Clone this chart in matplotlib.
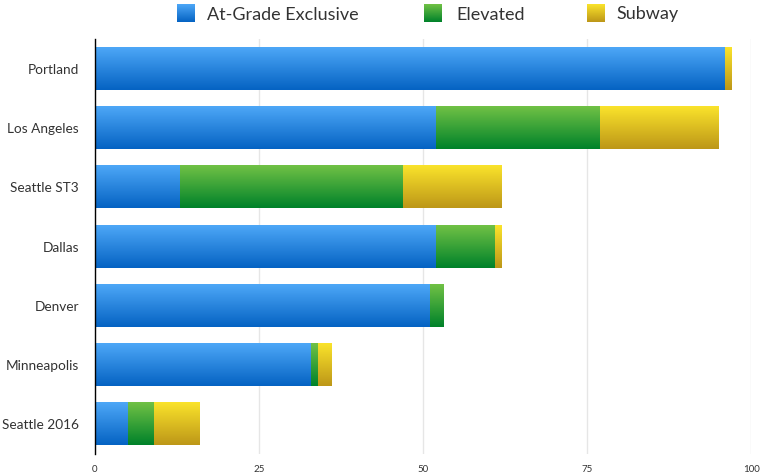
import numpy as np
import matplotlib
matplotlib.use("Agg")
import matplotlib.pyplot as plt
from matplotlib.colors import LinearSegmentedColormap

cities = ["Portland", "Los Angeles", "Seattle ST3", "Dallas", "Denver", "Minneapolis", "Seattle 2016"]
at_grade = [96, 52, 13, 52, 51, 33, 5]
elevated = [0, 25, 34, 9, 2, 1, 4]
subway = [1, 18, 15, 1, 0, 2, 7]
series_names = ["At-Grade Exclusive", "Elevated", "Subway"]
xticks = [0, 25, 50, 75, 100]

grads = [("#4da7f7", "#0563c3"), ("#70c145", "#00822a"), ("#fae32b", "#bd9718")]
flat = ["#2a85e0", "#35a83a", "#dcc024"]

plt.rcParams['font.family'] = ['Lato', 'DejaVu Sans']
W, H = 760, 474
fig = plt.figure(figsize=(W / 100, H / 100), dpi=100)
ax = fig.add_axes([94.7 / W, 1 - 453.9 / H, (751.3 - 94.7) / W, (453.9 - 39.4) / H])

y = np.arange(len(cities))
left = np.zeros(len(cities))
grad_img = np.linspace(0, 1, 64).reshape(-1, 1)
cmaps = [LinearSegmentedColormap.from_list("g%d" % i, [t, b]) for i, (t, b) in enumerate(grads)]
for vals, cmap, fc in zip([at_grade, elevated, subway], cmaps, flat):
    bars = ax.barh(y, vals, left=left, height=0.71, color=fc, zorder=2)
    for p in bars.patches:
        w = p.get_width()
        if w <= 0:
            continue
        x0, y0, h = p.get_x(), p.get_y(), p.get_height()
        # y axis is inverted: y0 is the visual top
        ax.imshow(grad_img, cmap=cmap, aspect='auto', extent=(x0, x0 + w, y0 + h, y0),
                  origin='upper', zorder=3, interpolation='bilinear')
        p.set_visible(False)
    left += np.array(vals)

ax.set_xlim(0, 100)
ax.set_ylim(len(cities) - 0.5, -0.5)
ax.set_yticks(y)
ax.set_yticklabels(cities, fontsize=9.8, color="#333333")
ax.set_xticks(xticks)
ax.set_xticklabels([str(t) for t in xticks], fontsize=7, color="#333333")
ax.tick_params(length=0, pad=8)
ax.tick_params(axis='y', pad=11.3)
ax.xaxis.grid(True, color="#e6e6e6", linewidth=1, zorder=0)
ax.set_axisbelow(True)
for s in ["top", "right", "bottom"]:
    ax.spines[s].set_visible(False)
ax.spines["left"].set_color("black")
ax.spines["left"].set_linewidth(1)
ax.spines["left"].set_zorder(5)

# legend: gradient squares + labels laid out as in the reference
sq_x = [177, 424, 587]
tx_x = [207, 456, 616]
for name, cmap, sx, tx in zip(series_names, cmaps, sq_x, tx_x):
    lax = fig.add_axes([sx / W, 1 - 22 / H, 18 / W, 18 / H])
    lax.imshow(grad_img, cmap=cmap, aspect='auto', interpolation='bilinear')
    lax.axis('off')
    fig.text(tx / W, 1 - 14.5 / H, name, fontsize=13, color="#333333", va='center', ha='left')

fig.savefig("out.png", dpi=100)
